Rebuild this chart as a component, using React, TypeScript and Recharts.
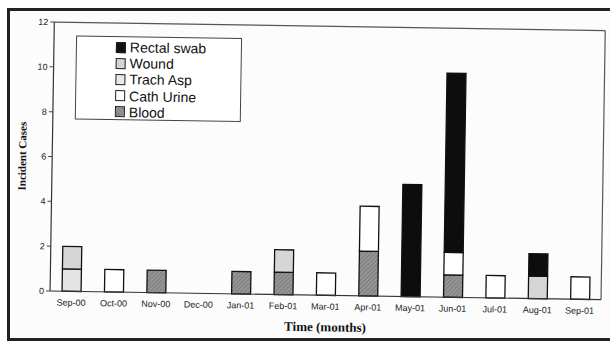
import { BarChart, Bar, XAxis, YAxis, Legend, Label } from 'recharts';

const months = [
  'Sep-00', 'Oct-00', 'Nov-00', 'Dec-00', 'Jan-01', 'Feb-01', 'Mar-01',
  'Apr-01', 'May-01', 'Jun-01', 'Jul-01', 'Aug-01', 'Sep-01',
];
const blood = [0, 0, 1, 0, 1, 1, 0, 2, 0, 1, 0, 0, 0];
const cathUrine = [0, 1, 0, 0, 0, 0, 1, 2, 0, 1, 1, 0, 1];
const trachAsp = [1, 0, 0, 0, 0, 0, 0, 0, 0, 0, 0, 0, 0];
const wound = [1, 0, 0, 0, 0, 1, 0, 0, 0, 0, 0, 1, 0];
const rectalSwab = [0, 0, 0, 0, 0, 0, 0, 0, 5, 8, 0, 1, 0];
const yTicks = [0, 2, 4, 6, 8, 10, 12];

const data = months.map((month, i) => ({
  month,
  blood: blood[i],
  cathUrine: cathUrine[i],
  trachAsp: trachAsp[i],
  wound: wound[i],
  rectalSwab: rectalSwab[i],
}));

// legend reads top to bottom, opposite of the stack
const legendItems = [
  { name: 'Rectal swab', fill: '#111111' },
  { name: 'Wound', fill: '#d4d4d4' },
  { name: 'Trach Asp', fill: '#e9e9e9' },
  { name: 'Cath Urine', fill: '#ffffff' },
  { name: 'Blood', fill: '#8a8a8a' },
];

const sans = '"Liberation Sans", Arial, sans-serif';
const serif = '"Liberation Serif", "Times New Roman", serif';

function LegendBox() {
  return (
    <div
      style={{
        width: 166,
        height: 84,
        border: '1.5px solid #444',
        background: '#fff',
        boxSizing: 'border-box',
        padding: '2px 0 0 39px',
      }}
    >
      {legendItems.map((it) => (
        <div
          key={it.name}
          style={{
            display: 'flex',
            alignItems: 'center',
            height: 16.2,
            fontFamily: sans,
            fontSize: 14,
            color: '#111',
          }}
        >
          <span
            style={{
              width: 8,
              height: 9,
              marginRight: 4,
              border: '1px solid #222',
              background: it.name === 'Blood' ? 'repeating-linear-gradient(45deg, #7a7a7a 0, #7a7a7a 1px, #9a9a9a 1px, #9a9a9a 2px)' : it.fill,
            }}
          />
          {it.name}
        </div>
      ))}
    </div>
  );
}

export default function App() {
  return (
    <div style={{ position: 'absolute', left: 0, top: 0, width: 610, height: 342, background: '#fff' }}>
      <div
        style={{
          position: 'absolute',
          left: 7,
          top: 8,
          width: 604,
          height: 333,
          border: '3px solid #222',
          borderRight: 'none',
          boxSizing: 'border-box',
          background: '#fcfcfc',
        }}
      />
      <div style={{ position: 'absolute', left: 0, top: 0, transform: 'rotate(0.9deg)', transformOrigin: '305px 171px' }}>
        <BarChart
          width={610}
          height={342}
          data={data}
          margin={{ top: 26, right: 7, bottom: 9, left: 12 }}
          barSize={19}
        >
          <defs>
            <pattern id="hatch" width="3" height="3" patternUnits="userSpaceOnUse" patternTransform="rotate(45)">
              <rect width="3" height="3" fill="#959595" />
              <line x1="0" y1="0" x2="0" y2="3" stroke="#6c6c6c" strokeWidth="1.2" />
            </pattern>
          </defs>
          <XAxis
            dataKey="month"
            height={38}
            interval={0}
            tickLine={false}
            axisLine={{ stroke: '#333', strokeWidth: 1.2 }}
            tick={{ fill: '#222', fontSize: 9, fontFamily: sans }}
          >
            <Label
              value="Time (months)"
              position="insideBottom"
              offset={2}
              style={{ fontFamily: serif, fontWeight: 'bold', fontSize: 13, fill: '#111' }}
            />
          </XAxis>
          <YAxis
            width={40}
            domain={[0, 12]}
            ticks={yTicks}
            tickSize={4}
            tickLine={{ stroke: '#444' }}
            axisLine={{ stroke: '#333', strokeWidth: 1.2 }}
            tick={{ fill: '#222', fontSize: 9, fontFamily: sans }}
          >
            <Label
              value="Incident Cases"
              angle={-90}
              position="insideLeft"
              offset={10}
              style={{ textAnchor: 'middle', fontFamily: serif, fontWeight: 'bold', fontSize: 11, fill: '#111' }}
            />
          </YAxis>
          <Legend
            layout="vertical"
            align="center"
            verticalAlign="middle"
            content={() => <LegendBox />}
            wrapperStyle={{ position: 'absolute', left: 74, top: 39, width: 166, height: 84 }}
          />
          <Bar dataKey="blood" name="Blood" stackId="a" fill="url(#hatch)" stroke="#111" strokeWidth={1.3} isAnimationActive={false} />
          <Bar dataKey="cathUrine" name="Cath Urine" stackId="a" fill="#ffffff" stroke="#111" strokeWidth={1.3} isAnimationActive={false} />
          <Bar dataKey="trachAsp" name="Trach Asp" stackId="a" fill="#e4e4e4" stroke="#111" strokeWidth={1.3} isAnimationActive={false} />
          <Bar dataKey="wound" name="Wound" stackId="a" fill="#d6d6d6" stroke="#111" strokeWidth={1.3} isAnimationActive={false} />
          <Bar dataKey="rectalSwab" name="Rectal swab" stackId="a" fill="#0d0d0d" stroke="#111" strokeWidth={1.3} isAnimationActive={false} />
          {/* top and right edges of the plot frame */}
          <svg>
            <line x1={52} y1={26} x2={603} y2={26} stroke="#555" strokeWidth={1.2} />
            <line x1={603} y1={26} x2={603} y2={295} stroke="#555" strokeWidth={1.2} />
          </svg>
        </BarChart>
      </div>
    </div>
  );
}
